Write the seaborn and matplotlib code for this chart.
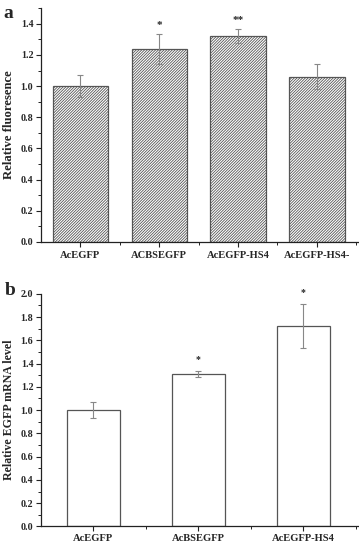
#!/usr/bin/env python
"""Two-panel bar chart: relative fluorescence (a) and relative EGFP mRNA (b)."""

import matplotlib
matplotlib.use("Agg")
import matplotlib.pyplot as plt
import pandas as pd
import seaborn as sns
from matplotlib.ticker import FixedLocator, MultipleLocator

# panel a
fluor_groups = ["AcEGFP", "ACBSEGFP", "AcEGFP-HS4", "AcEGFP-HS4-"]
fluor_mean = [1.00, 1.24, 1.32, 1.06]
fluor_err = [0.07, 0.095, 0.045, 0.08]
fluor_marks = ["", "*", "**", ""]

# panel b
mrna_groups = ["AcEGFP", "AcBSEGFP", "AcEGFP-HS4"]
mrna_mean = [1.00, 1.31, 1.72]
mrna_err = [0.07, 0.025, 0.19]
mrna_marks = ["", "*", "*"]


def style_axis(ax, ymax, n):
    sns.despine(ax=ax, top=True, right=True)
    for s in ("left", "bottom"):
        ax.spines[s].set_linewidth(0.9)
        ax.spines[s].set_color("#222222")
    ax.set_ylim(0, ymax)
    ax.yaxis.set_major_locator(MultipleLocator(0.2))
    ax.yaxis.set_minor_locator(MultipleLocator(0.1))
    ax.yaxis.set_major_formatter(plt.FuncFormatter(lambda v, _: f"{v:.1f}"))
    ax.xaxis.set_minor_locator(FixedLocator([i + 0.5 for i in range(n)]))
    ax.tick_params(axis="both", which="both", bottom=True, left=True, top=False, right=False)
    ax.tick_params(axis="both", which="major", direction="out", length=3.5, width=0.8,
                   labelsize=7.2, pad=2, color="#222222")
    ax.tick_params(axis="both", which="minor", direction="out", length=2, width=0.7,
                   color="#222222")
    ax.tick_params(axis="x", which="major", pad=3, labelsize=7.6)
    for lab in ax.get_xticklabels() + ax.get_yticklabels():
        lab.set_fontweight("bold")
    ax.set_xlabel("")


def main() -> None:
    sns.set_style("white")
    plt.rcParams["font.family"] = ["Liberation Serif", "DejaVu Serif"]
    plt.rcParams["hatch.color"] = "#8c8c8c"
    plt.rcParams["hatch.linewidth"] = 0.6

    fig = plt.figure(figsize=(3.59, 5.45), dpi=100)
    ax_a = fig.add_axes([0.114, 0.556, 0.883, 0.429])
    ax_b = fig.add_axes([0.114, 0.034, 0.883, 0.427])

    df_a = pd.DataFrame({"group": fluor_groups, "value": fluor_mean})
    sns.barplot(data=df_a, x="group", y="value", order=fluor_groups, color="white",
                width=0.7, errorbar=None, edgecolor="#555555", linewidth=0.9, ax=ax_a)
    for p in ax_a.patches:
        p.set_hatch("////////////")
    ax_a.errorbar(range(len(fluor_groups)), fluor_mean, yerr=fluor_err, fmt="none",
                  ecolor="#888888", elinewidth=0.8, capsize=2.5, capthick=0.8)
    for i, m in enumerate(fluor_marks):
        if m:
            ax_a.text(i, fluor_mean[i] + fluor_err[i] + 0.025, m, ha="center", va="bottom",
                      fontsize=8, fontweight="bold")
    ax_a.set_xlim(-0.5, 3.52)
    style_axis(ax_a, 1.5, len(fluor_groups))
    ax_a.set_ylabel("Relative fluoresence", fontsize=9.2, fontweight="bold", labelpad=4)

    df_b = pd.DataFrame({"group": mrna_groups, "value": mrna_mean})
    sns.barplot(data=df_b, x="group", y="value", order=mrna_groups, color="white",
                width=0.5, errorbar=None, edgecolor="#555555", linewidth=0.9, ax=ax_b)
    ax_b.errorbar(range(len(mrna_groups)), mrna_mean, yerr=mrna_err, fmt="none",
                  ecolor="#888888", elinewidth=0.8, capsize=2.5, capthick=0.8)
    for i, m in enumerate(mrna_marks):
        if m:
            ax_b.text(i, mrna_mean[i] + mrna_err[i] + 0.06, m, ha="center", va="bottom",
                      fontsize=7, fontweight="bold", clip_on=False)
    ax_b.set_xlim(-0.5, 2.52)
    style_axis(ax_b, 2.0, len(mrna_groups))
    ax_b.tick_params(axis="x", which="major", pad=2)
    ax_b.set_ylabel("Relative EGFP mRNA level", fontsize=8.6, fontweight="bold", labelpad=4)

    fig.text(0.01, 0.99, "a", fontsize=14, fontweight="bold", va="top", ha="left")
    fig.text(0.012, 0.482, "b", fontsize=14, fontweight="bold", va="top", ha="left")

    fig.savefig("out.png", dpi=100)
    plt.close(fig)


if __name__ == "__main__":
    main()
